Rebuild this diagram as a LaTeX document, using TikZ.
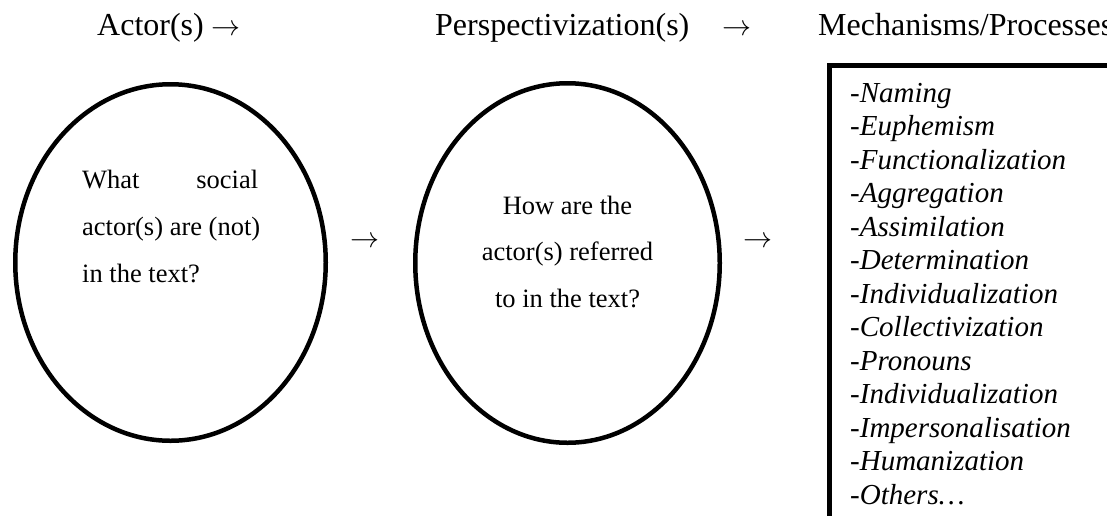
\RequirePackage{fix-cm}
\documentclass[tikz,border=0pt]{standalone}
\usepackage{fontspec}
\setmainfont{Liberation Serif}
\usetikzlibrary{shapes.geometric}
\begin{document}
\begin{tikzpicture}[x=1pt,y=-1pt,
  txt/.style={inner sep=0pt, anchor=base west},
  head/.style={txt, font=\fontsize{32}{36}\selectfont},
  body/.style={txt, font=\fontsize{26.5}{30}\selectfont},
  bodyc/.style={inner sep=0pt, anchor=base, font=\fontsize{26.5}{30}\selectfont},
  arr/.style={txt, font=\fontsize{29}{30}\selectfont},
  item/.style={txt, font=\fontsize{29}{33}\selectfont\itshape},
  oval/.style={draw, ellipse, line width=4.5pt, inner sep=0pt},
  frame/.style={draw, line width=5pt},
]
\useasboundingbox (0,0) rectangle (1107,515);
\clip (0,0) rectangle (1107,515);
% headers
\node[head] (h1) at (97,35) {Actor(s)};
\node[arr] (h1a) at (211,35) {$\rightarrow$};
\node[head] (h2) at (435,35) {Perspectivization(s)};
\node[arr] (h2a) at (722,35) {$\rightarrow$};
\node[head] (h3) at (818,35) {Mechanisms/Processes};
% ellipses
\node[oval, minimum width=310.5pt, minimum height=356.5pt] (e1) at (170.5,262.5) {};
\node[oval, minimum width=304.5pt, minimum height=359.5pt] (e2) at (567.5,263) {};
% ellipse 1 text
\node[body] (l1) at (82,188) {\makebox[176pt][s]{What\hfill social}};
\node[body] (l2) at (82,235) {actor(s) are (not)};
\node[body] (l3) at (82,282) {in the text?};
% ellipse 2 text
\node[bodyc] (m1) at (567.5,214) {How are the};
\node[bodyc] (m2) at (567.5,260.5) {actor(s) referred};
\node[bodyc] (m3) at (567.5,307) {to in the text?};
% arrows between
\node[arr] (a1) at (350,247.5) {$\rightarrow$};
\node[arr] (a2) at (743,247.5) {$\rightarrow$};
% box
\draw[frame] (829.5,65.5) rectangle (1130,540);
\node[item] (i1) at (850,102) {-Naming};
\node[item] (i2) at (850,135.5) {-Euphemism};
\node[item] (i3) at (850,169) {-Functionalization};
\node[item] (i4) at (850,202.5) {-Aggregation};
\node[item] (i5) at (850,236) {-Assimilation};
\node[item] (i6) at (850,269.5) {-Determination};
\node[item] (i7) at (850,303) {-Individualization};
\node[item] (i8) at (850,336.5) {-Collectivization};
\node[item] (i9) at (850,370) {-Pronouns};
\node[item] (i10) at (850,403.5) {-Individualization};
\node[item] (i11) at (850,437) {-Impersonalisation};
\node[item] (i12) at (850,470.5) {-Humanization};
\node[item] (i13) at (850,504) {-Others…};
\end{tikzpicture}
\end{document}
